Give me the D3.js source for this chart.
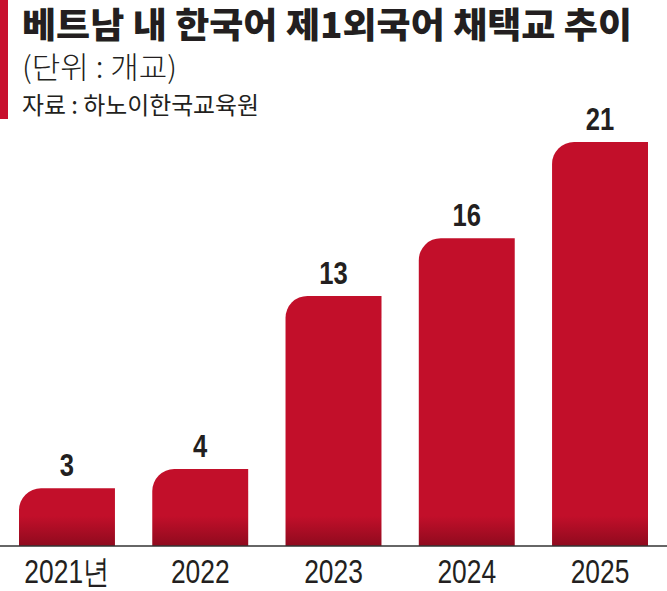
<!DOCTYPE html>
<html>
<head>
<meta charset="utf-8">
<script src="https://cdn.jsdelivr.net/npm/d3@7"></script>
<style>
  html, body { margin: 0; padding: 0; background: #fff; }
  svg { display: block; }
</style>
</head>
<body>
<svg id="chart" width="667" height="591"></svg>
<script>
// data
const titleText = "베트남 내 한국어 제1외국어 채택교 추이";
const unitText = "(단위 : 개교)";
const sourceText = "자료 : 하노이한국교육원";
const years = ["2021년", "2022", "2023", "2024", "2025"];
const schools = [3, 4, 13, 16, 21];

const svg = d3.select("#chart");
const width = +svg.attr("width");
const height = +svg.attr("height");
const baseY = 546;
const barColor = "#c20f2a";
const radius = 22;
const narrow = 0.8;  // horizontal squeeze for the condensed look

// gradient: bars darken a bit toward the baseline
const defs = svg.append("defs");
const grad = defs.append("linearGradient")
    .attr("id", "barGrad")
    .attr("gradientUnits", "userSpaceOnUse")
    .attr("x1", 0).attr("y1", baseY - 30)
    .attr("x2", 0).attr("y2", baseY);
grad.append("stop").attr("offset", "0%").attr("stop-color", barColor);
grad.append("stop").attr("offset", "100%").attr("stop-color", "#8f0a1e");

// red accent on the left of the header
svg.append("rect")
    .attr("x", 0).attr("y", 0)
    .attr("width", 8).attr("height", 119)
    .attr("fill", "#c8102e");

// header texts
svg.append("text")
    .attr("x", 22).attr("y", 38)
    .attr("font-family", "'Noto Sans CJK KR'")
    .attr("font-weight", 900)
    .attr("font-size", 35)
    .attr("textLength", 610)
    .attr("lengthAdjust", "spacingAndGlyphs")
    .attr("fill", "#231f20")
    .text(titleText);

svg.append("text")
    .attr("x", 22).attr("y", 78)
    .attr("font-family", "'Noto Sans CJK KR'")
    .attr("font-weight", 300)
    .attr("font-size", 30)
    .attr("textLength", 155)
    .attr("lengthAdjust", "spacingAndGlyphs")
    .attr("fill", "#231f20")
    .text(unitText);

svg.append("text")
    .attr("x", 22).attr("y", 114)
    .attr("font-family", "'Noto Sans CJK KR'")
    .attr("font-weight", 400)
    .attr("font-size", 24)
    .attr("textLength", 237)
    .attr("lengthAdjust", "spacingAndGlyphs")
    .attr("fill", "#231f20")
    .text(sourceText);

// scales
const x = d3.scaleBand()
    .domain(years)
    .range([19, 648])
    .paddingInner(0.28)
    .paddingOuter(0);

const y = d3.scaleLinear()
    .domain([0, 21])
    .range([baseY, 142]);

// bar path: rounded top-left corner only
function barPath(x0, w, top) {
    const r = Math.min(radius, baseY - top);
    return `M${x0},${baseY}` +
        `V${top + r}` +
        `A${r},${r} 0 0 1 ${x0 + r},${top}` +
        `H${x0 + w}` +
        `V${baseY}Z`;
}

svg.append("g")
    .selectAll("path")
    .data(schools)
    .join("path")
    .attr("d", (d, i) => barPath(x(years[i]), x.bandwidth(), y(d)))
    .attr("fill", "url(#barGrad)");

// value labels
svg.append("g")
    .selectAll("text")
    .data(schools)
    .join("text")
    .attr("transform", (d, i) =>
        `translate(${x(years[i]) + x.bandwidth() / 2},${y(d) - 12}) scale(${narrow},1)`)
    .attr("text-anchor", "middle")
    .attr("font-family", "'Liberation Sans', Arial, sans-serif")
    .attr("font-weight", 700)
    .attr("font-size", 32)
    .attr("fill", "#231f20")
    .text(d => d);

// baseline
svg.append("line")
    .attr("x1", 0).attr("x2", width)
    .attr("y1", baseY).attr("y2", baseY)
    .attr("stroke", "#333")
    .attr("stroke-width", 1.5);

// category labels
svg.append("g")
    .selectAll("text")
    .data(years)
    .join("text")
    .attr("transform", d =>
        `translate(${x(d) + x.bandwidth() / 2},583) scale(${narrow},1)`)
    .attr("text-anchor", "middle")
    .attr("font-family", "'Liberation Sans', Arial, sans-serif")
    .attr("font-size", 33)
    .attr("fill", "#231f20")
    .text(d => d);
</script>
</body>
</html>
